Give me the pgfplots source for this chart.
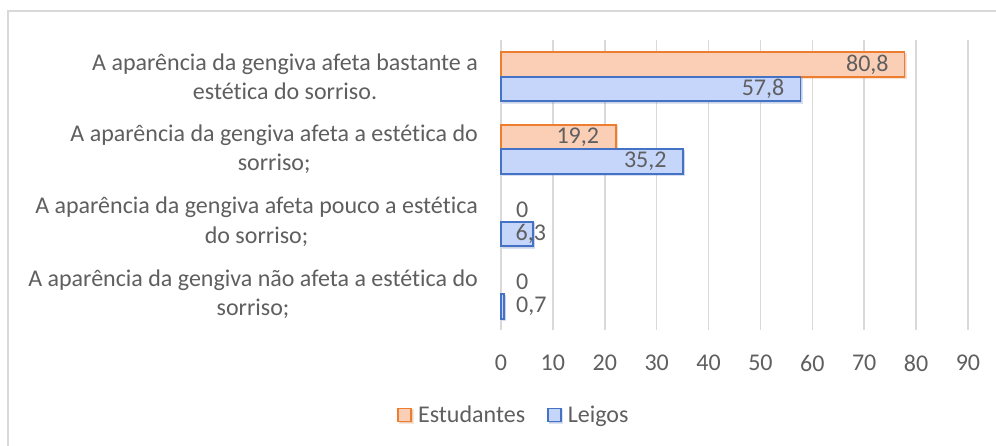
\documentclass[border=0pt]{standalone}
\usepackage{pgfplots}
\pgfplotsset{compat=1.18}
\usepackage{fontspec}
\setmainfont{Carlito}[RawFeature={-liga;-clig;-calt}]
\usetikzlibrary{shadows}
\definecolor{txt}{HTML}{5F5F5F}
\definecolor{gridc}{HTML}{D9D9D9}
\definecolor{orline}{HTML}{ED7D31}
\definecolor{orfill}{RGB}{251,206,182}
\definecolor{blline}{HTML}{4472C4}
\definecolor{blfill}{RGB}{198,214,251}
\newcommand{\cf}{\fontsize{24}{29.5}\selectfont}
\begin{document}
\begin{tikzpicture}[x=1pt,y=1pt]
\useasboundingbox (0,0) rectangle (996,446);
\clip (0,0) rectangle (996,446);
\fill[white] (0,0) rectangle (996,446);
\draw[gridc, line width=1.5pt] (8,-20) -- (8,435) -- (1020,435);
\begin{axis}[
  at={(501pt,115.5pt)}, anchor=south west,
  scale only axis, width=467pt, height=290pt,
  xmin=0, xmax=90, ymin=-0.5, ymax=3.5,
  xtick={0,10,...,90}, ytick={0,1,2,3},
  yticklabels={
    {A aparência da gengiva não afeta a estética do\\sorriso;},
    {A aparência da gengiva afeta pouco a estética\\do sorriso;},
    {A aparência da gengiva afeta a estética do\\sorriso;},
    {A aparência da gengiva afeta bastante a\\estética do sorriso.}},
  axis line style={draw=none},
  major tick length=0pt,
  xmajorgrids, major grid style={gridc, line width=1.5pt},
  /pgf/number format/assume math mode=true,
  xticklabel style={font=\cf, text=txt, inner sep=0pt, anchor=north, yshift=-24.5pt},
  yticklabel style={font=\cf, text=txt, align=center, anchor=east, inner sep=0pt, xshift=-23pt},
  legend style={at={(0.0257,-0.291)}, anchor=center, draw=none, fill=none,
    legend columns=2, font=\cf, text=txt, column sep=6pt,
    /tikz/every even column/.append style={column sep=22pt},
    nodes={inner sep=0pt}},
  legend cell align=left,
  clip=false,
]
\addplot[xbar, bar width=24.5pt, bar shift=12.25pt, draw=orline, line width=1.6pt,
  fill=orfill,
  drop shadow={shadow xshift=1.5pt, shadow yshift=-1.5pt, opacity=0.2},
  legend image code/.code={\draw[line width=1.6pt, draw=orline, fill=orfill] (0pt,-6.5pt) rectangle (13pt,6.5pt);}]
  coordinates {(77.8,3) (22.2,2)};
\addlegendentry{Estudantes}
\addplot[xbar, bar width=24.5pt, bar shift=-12.25pt, draw=blline, line width=1.6pt,
  fill=blfill,
  drop shadow={shadow xshift=1.5pt, shadow yshift=-1.5pt, opacity=0.2},
  legend image code/.code={\draw[line width=1.6pt, draw=blline, fill=blfill] (0pt,-6.5pt) rectangle (13pt,6.5pt);}]
  coordinates {(57.7,3) (35.1,2) (6.2,1) (0.6,0)};
\addlegendentry{Leigos}
\addplot[draw=none, mark=none, forget plot, nodes near coords, point meta=explicit symbolic,
  nodes near coords align=center,
  every node near coord/.append style={font=\cf, text=txt, inner sep=0pt, anchor=center}]
  table[meta=lab] {
x y lab
70.6 3.169 80,8
14.8 2.169 19,2
4.1 1.169 0
4.1 0.169 0
50.5 2.831 57,8
27.8 1.831 35,2
5.74 0.831 6,3
5.84 -0.169 0,7
};
\end{axis}
\end{tikzpicture}
\end{document}
